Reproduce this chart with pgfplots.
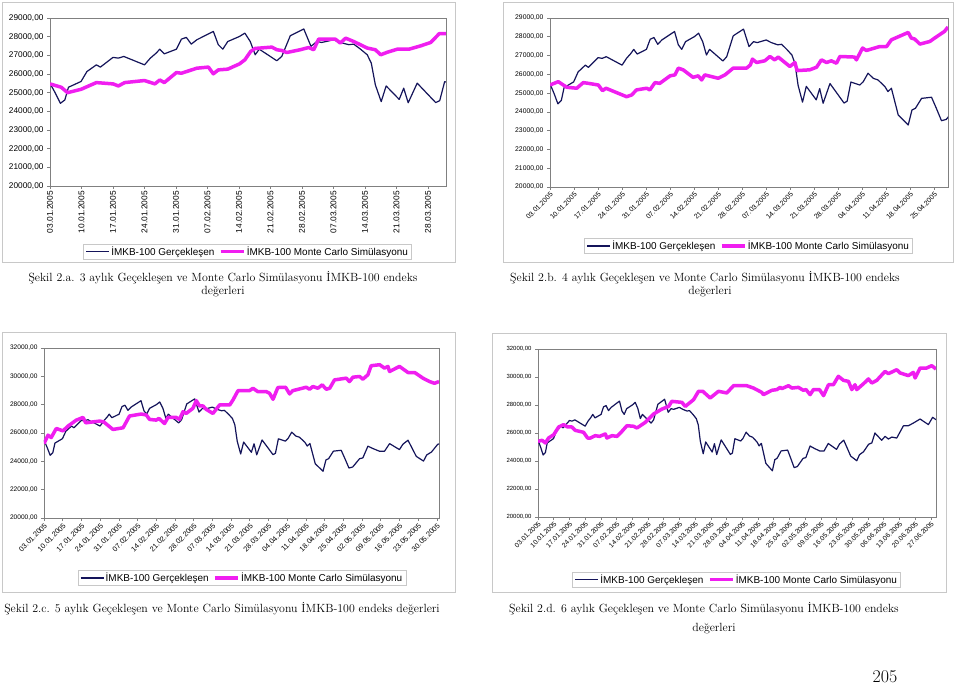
\documentclass[border=0pt]{standalone}
\usepackage{fontspec}
\newfontfamily\arial{Liberation Sans}
\usepackage{pgfplots}
\usepackage{pgfplotstable}
\pgfplotsset{compat=1.18}
\definecolor{navy}{RGB}{20,20,90}
\definecolor{mag}{RGB}{240,30,240}
\definecolor{framec}{RGB}{200,200,200}
\definecolor{axgray}{RGB}{128,128,128}

\pgfplotstableread{
d v
0 25500
1.2 24970
2.3 24430
3.3 24610
4.1 25290
6.9 25600
8.2 26130
10.3 26490
11.2 26370
14.0 26890
15.2 26850
16.4 26940
21.0 26490
22.3 26850
23.6 27120
24.4 27330
25.4 27080
28.1 27330
29.2 27870
30.3 27960
31.4 27600
32.6 27830
36.3 28280
37.4 27570
38.4 27330
39.5 27740
42.1 28010
43.3 28190
44.5 27740
45.6 27030
46.5 27330
50.4 26710
51.5 26940
53.4 28050
56.4 28410
58.0 27480
59.3 27740
60.4 27690
63.0 27830
64.5 27690
66.4 27570
67.5 27600
69.0 27330
70.5 27030
71.4 26580
72.3 25420
73.6 24520
74.7 25360
77.6 24640
78.6 25240
79.6 24460
81.6 25510
85.7 24470
86.6 24570
87.7 25590
90.3 25430
91.3 25610
92.7 26060
94.2 25790
95.6 25700
97.6 25350
98.5 25080
99.5 25260
101.5 23830
104.4 23300
105.5 24100
106.5 24190
108.3 24720
111.2 24780
112.6 24190
114.1 23530
115.5 23600
118.1 24190
119.3 24240
121.2 25070
123.1 24900
125.6 24710
127.4 24710
129.3 25250
133.0 24830
134.3 25210
136.2 25490
139.3 24350
142.0 24020
143.2 24450
145.0 24660
147.3 25200
148.7 25290
150.1 26000
153.1 25480
154.6 25760
156.1 25570
157.6 25710
159.8 25640
162.8 26520
165.0 26520
167.2 26710
170.2 27000
173.9 26600
175.8 27120
177.3 26950
}\actual

\pgfplotstableread{
d v
0 25470
2.5 25290
3.9 25000
6.9 25180
10.3 25540
14.0 25470
15.2 25360
16.6 25540
21.0 25650
23.3 25470
24.4 25680
25.4 25540
28.1 26080
29.2 26040
32.6 26310
35.2 26370
36.3 26010
37.4 26220
39.5 26260
42.1 26540
43.3 26760
44.6 27210
45.6 27370
49.3 27440
50.4 27300
51.5 27260
52.6 27150
55.6 27300
57.5 27420
58.6 27300
59.7 27870
63.4 27870
64.5 27660
65.7 27920
67.5 27740
70.5 27390
72.3 27300
73.5 27030
75.0 27170
77.2 27330
79.8 27330
82.4 27510
84.6 27690
86.5 28160
88.0 28160
}\sima

\pgfplotstableread{
d v
0 25430
2.4 25610
4.9 25310
7.8 25260
9.7 25560
11.2 25520
14.1 25430
15.3 25130
16.3 25260
22.3 24810
23.8 24900
25.2 25170
28.2 25260
29.1 25170
30.6 25560
32.0 25520
35.0 25920
36.4 25970
37.4 26330
38.8 26240
41.7 25840
43.2 25920
44.2 25700
45.1 25970
49.0 25790
51.0 25970
53.4 26330
57.3 26330
58.4 26500
59.0 26810
60.2 26630
62.6 26720
64.1 26950
65.5 26770
66.5 26920
69.9 26420
71.4 26630
72.0 26200
75.7 26240
77.7 26380
79.1 26770
80.6 26630
82.0 26720
83.5 26590
84.5 26950
88.8 26920
89.3 26770
91.1 27400
92.2 27270
96.1 27480
98.1 27480
99.5 27840
104.4 28230
105.3 27930
106.3 27880
107.8 27610
110.7 27750
112.1 27930
115.0 28290
116.0 28520
}\simb

\pgfplotstableread{
d v
0 25250
1.5 25850
2.7 25680
4.6 26320
7.1 26150
9.0 26490
12.1 26910
14.6 27100
15.6 26720
20.8 26840
22.3 26790
25.8 26250
29.6 26370
32.0 27200
36.4 27340
38.3 27270
39.5 26960
42.0 26910
43.0 27030
45.1 26670
46.4 27100
49.5 27100
50.7 26960
52.0 27500
53.2 27380
55.7 27740
57.0 28280
58.2 27910
59.5 27910
60.7 27670
63.2 27380
65.7 27980
69.5 27980
70.7 28330
72.6 28990
76.9 28990
78.2 29160
80.0 28920
83.2 28920
84.4 28800
85.7 28380
87.5 29210
90.4 29230
91.9 28760
93.1 28990
98.1 29230
99.4 29090
100.6 29280
102.5 29160
104.1 29400
105.6 29090
106.9 29160
108.7 29750
113.1 29870
114.3 29630
115.6 29940
118.1 29990
119.3 29800
121.2 30110
122.4 30750
125.6 30820
127.4 30580
128.7 30700
129.3 30340
133.0 30700
136.2 30270
138.7 30270
141.8 29870
144.3 29630
146.1 29510
147.8 29630
}\simc

\pgfplotstableread{
d v
0 25400
1.8 25480
3.3 25290
4.7 25640
7.0 25880
9.2 26430
11.4 26600
13.2 26430
15.1 26430
16.6 26190
20.3 26050
22.1 25640
23.3 25640
25.5 25810
27.4 25760
30.0 25930
30.7 25640
32.9 25810
35.2 25760
37.4 26120
39.6 26520
42.6 26480
44.1 26360
47.8 26760
51.5 27360
55.2 27710
58.2 27900
59.6 28260
64.1 28190
65.6 27900
69.3 28380
71.5 28980
73.4 28980
76.7 28500
80.4 28980
84.1 28860
87.1 29380
93.0 29380
96.0 29210
99.7 28900
100.4 28740
104.2 29050
106.4 29100
107.9 29260
108.6 29170
111.6 29380
113.1 29210
116.0 29260
118.2 29050
119.4 29100
121.2 28740
122.7 29100
125.4 29100
127.2 28670
129.4 29450
131.6 29450
133.8 30050
136.1 29760
138.3 29690
139.8 29100
141.2 29450
142.0 29100
145.0 29520
147.2 29860
148.7 29570
150.9 29760
154.6 30400
156.1 30240
159.8 30520
161.3 30290
165.0 30100
167.2 30330
168.0 29930
170.2 30640
173.1 30640
175.4 30810
177.3 30570
}\simd

\pgfplotsset{
  panel/.style={
    scale only axis, anchor=north west,
    axis line style={draw=axgray, line width=0.8bp},
    tick style={draw=axgray, line width=0.6bp},
    major tick length=3bp,
    tick align=outside, tick pos=left,
    ymin=20000, xmin=0,
    scaled y ticks=false,
    yticklabel style={/pgf/number format/fixed, /pgf/number format/fixed zerofill, /pgf/number format/precision=2, /pgf/number format/use comma, /pgf/number format/1000 sep={}, /pgf/number format/assume math mode=true},
    xticklabel style={inner sep=1bp},
    legend columns=2,
    legend style={draw=framec, fill=white, font=\arial\fontsize{10}{12}\selectfont, inner xsep=2bp, inner ysep=1bp, anchor=center, nodes={inner sep=1.5bp}, /tikz/every even column/.append style={column sep=3bp}},
    legend cell align=left,
    legend image code/.code={\draw[##1] (0bp,0bp) -- (23bp,0bp);},
  },
  act/.style={navy, line width=1.2bp, line join=round},
  sim/.style={mag, line width=3.5bp, line join=round},
}

\begin{document}
\begin{tikzpicture}
\fill[white] (0,0) rectangle (960bp,-683bp);
\path[use as bounding box] (0,0) rectangle (960bp,-683bp);
\draw[framec, line width=0.8bp] (2bp,-2bp) rectangle (455bp,-262bp);
\draw[framec, line width=0.8bp] (503bp,-2bp) rectangle (953bp,-262bp);
\draw[framec, line width=0.8bp] (2bp,-332bp) rectangle (455bp,-592bp);
\draw[framec, line width=0.8bp] (492bp,-333bp) rectangle (946bp,-592bp);

% Panel a
\begin{axis}[panel, at={(50bp,-18bp)}, width=396bp, height=168bp,
  xmax=88, ymax=29000, ytick={20000,21000,...,29000},
  xtick={0,7,...,84},
  xticklabels={03.01.2005,10.01.2005,17.01.2005,24.01.2005,31.01.2005,07.02.2005,14.02.2005,21.02.2005,28.02.2005,07.03.2005,14.03.2005,21.03.2005,28.03.2005},
  xticklabel style={rotate=90, anchor=east, font=\arial\fontsize{8.4}{10}\selectfont, inner sep=2bp},
  yticklabel style={font=\arial\fontsize{8.3}{10}\selectfont},
  legend style={at={(0.499,-0.39)}}]
\addplot[act] table[x=d,y=v]{\actual};
\addplot[sim] table[x=d,y=v]{\sima};
\legend{İMKB-100 Gerçekleşen, İMKB-100 Monte Carlo Simülasyonu}
\end{axis}

% Panel b
\begin{axis}[panel, at={(550bp,-18bp)}, width=398bp, height=169bp,
  xmax=116, ymax=29000, ytick={20000,21000,...,29000},
  xtick={0,7,...,112},
  xticklabels={03.01.2005,10.01.2005,17.01.2005,24.01.2005,31.01.2005,07.02.2005,14.02.2005,21.02.2005,28.02.2005,07.03.2005,14.03.2005,21.03.2005,28.03.2005,04.04.2005,11.04.2005,18.04.2005,25.04.2005},
  xticklabel style={rotate=45, anchor=north east, font=\arial\fontsize{7}{8}\selectfont},
  yticklabel style={font=\arial\fontsize{6.8}{8}\selectfont},
  legend style={at={(0.499,-0.349)}}]
\addplot[act] table[x=d,y=v]{\actual};
\addplot[sim] table[x=d,y=v]{\simb};
\legend{İMKB-100 Gerçekleşen, İMKB-100 Monte Carlo Simülasyonu}
\end{axis}

% Panel c
\begin{axis}[panel, at={(44bp,-348bp)}, width=395bp, height=170bp,
  xmax=147.8, ymax=32000, ytick={20000,22000,...,32000},
  xtick={0,7,...,147},
  xticklabels={03.01.2005,10.01.2005,17.01.2005,24.01.2005,31.01.2005,07.02.2005,14.02.2005,21.02.2005,28.02.2005,07.03.2005,14.03.2005,21.03.2005,28.03.2005,04.04.2005,11.04.2005,18.04.2005,25.04.2005,02.05.2005,09.05.2005,16.05.2005,23.05.2005,30.05.2005},
  xticklabel style={rotate=45, anchor=north east, font=\arial\fontsize{7.3}{8}\selectfont},
  yticklabel style={font=\arial\fontsize{6.6}{8}\selectfont},
  legend style={at={(0.501,-0.353)}}]
\addplot[act] table[x=d,y=v]{\actual};
\addplot[sim] table[x=d,y=v]{\simc};
\legend{İMKB-100 Gerçekleşen, İMKB-100 Monte Carlo Simülasyonu}
\end{axis}

% Panel d
\begin{axis}[panel, at={(538bp,-349bp)}, width=398bp, height=168bp,
  xmax=177.3, ymax=32000, ytick={20000,22000,...,32000},
  xtick={0,7,...,175},
  xticklabels={03.01.2005,10.01.2005,17.01.2005,24.01.2005,31.01.2005,07.02.2005,14.02.2005,21.02.2005,28.02.2005,07.03.2005,14.03.2005,21.03.2005,28.03.2005,04.04.2005,11.04.2005,18.04.2005,25.04.2005,02.05.2005,09.05.2005,16.05.2005,23.05.2005,30.05.2005,06.06.2005,13.06.2005,20.06.2005,27.06.2005},
  xticklabel style={rotate=45, anchor=north east, font=\arial\fontsize{6.8}{8}\selectfont, inner sep=0.5bp},
  yticklabel style={font=\arial\fontsize{6}{7}\selectfont},
  legend style={at={(0.499,-0.372)}}]
\addplot[act] table[x=d,y=v]{\actual};
\addplot[sim] table[x=d,y=v]{\simd};
\legend{İMKB-100 Gerçekleşen, İMKB-100 Monte Carlo Simülasyonu}
\end{axis}

% Captions
\begin{scope}[every node/.style={font=\fontsize{11.9}{14}\selectfont, inner sep=0pt}]
\node at (223bp,-278bp) {Şekil 2.a. 3 aylık Geçekleşen ve Monte Carlo Simülasyonu İMKB-100 endeks};
\node at (223bp,-292bp) {değerleri};
\node at (705bp,-278bp) {Şekil 2.b. 4 aylık Geçekleşen ve Monte Carlo Simülasyonu İMKB-100 endeks};
\node at (710bp,-292bp) {değerleri};
\node at (222bp,-609bp) {Şekil 2.c. 5 aylık Geçekleşen ve Monte Carlo Simülasyonu İMKB-100 endeks değerleri};
\node at (704bp,-609bp) {Şekil 2.d. 6 aylık Geçekleşen ve Monte Carlo Simülasyonu İMKB-100 endeks};
\node at (714bp,-629bp) {değerleri};
\node[font=\fontsize{18}{20}\selectfont] at (885bp,-677bp) {205};
\end{scope}
\end{tikzpicture}
\end{document}
